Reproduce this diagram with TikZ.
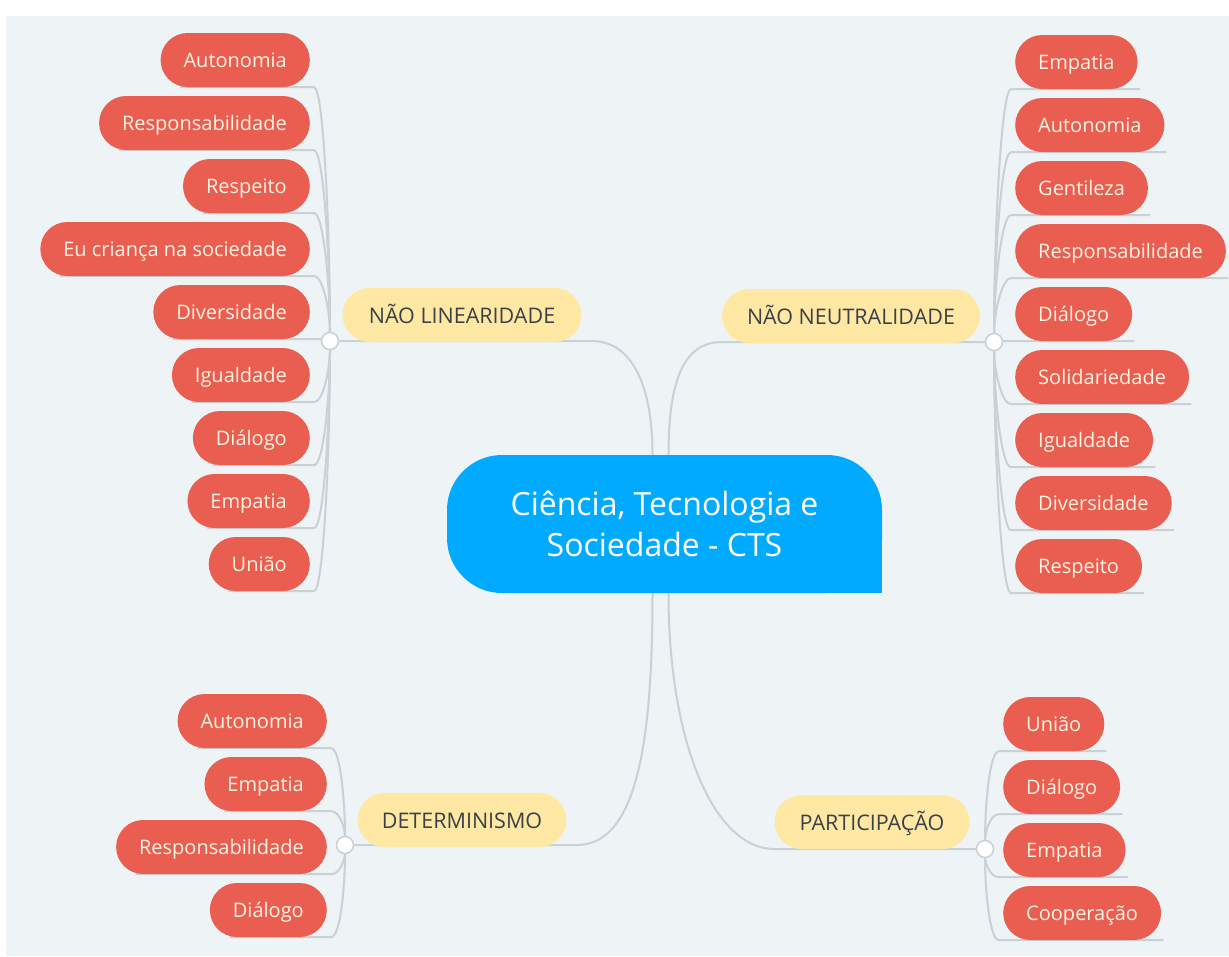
\documentclass[tikz,border=0pt]{standalone}
\usepackage{fontspec}
\setmainfont{Open Sans}
\usetikzlibrary{calc}
\definecolor{bgc}{HTML}{EEF3F6}
\definecolor{redc}{HTML}{E95E50}
\definecolor{yelc}{HTML}{FFE8A4}
\definecolor{linec}{HTML}{C9D1D6}
\definecolor{bluec}{HTML}{00AAFF}
\definecolor{leaftext}{HTML}{FFF4E2}
\definecolor{ytext}{HTML}{3B4148}
\pgfdeclarelayer{bglayer}
\pgfsetlayers{bglayer,main}
\begin{document}
\begin{tikzpicture}[x=1pt,y=-1pt,
  leaf/.style={fill=redc, text=leaftext, rounded corners=27pt, minimum height=54pt,
    inner xsep=23pt, inner ysep=0pt, text height=16.5pt, text depth=1pt,
    font=\fontsize{20}{24}\selectfont},
  topic/.style={fill=yelc, text=ytext, rounded corners=27pt, minimum height=54pt,
    inner sep=0pt, text height=17pt, text depth=1pt, font=\fontsize{21.5}{24}\selectfont},
  conn/.style={draw=linec, line width=2pt},
  junc/.style={circle, fill=white, draw=linec, line width=1.5pt, minimum size=17pt, inner sep=0pt},
  central/.style={fill=bluec, text=white, rounded corners=55pt, minimum width=435pt,
    minimum height=138pt, align=center, font=\fontsize{32}{41}\selectfont}]
\useasboundingbox (0,0) rectangle (1229,956);

% central node
\node[central] (C) at (664.5,524) {Ciência, Tecnologia e\\Sociedade - CTS};
\fill[bluec] (C.south east) rectangle ++(-56,-56);

% topics
\node[topic, minimum width=239pt] (NL) at (462,315) {NÃO LINEARIDADE};
\node[topic, minimum width=258pt] (NN) at (851,316) {NÃO NEUTRALIDADE};
\node[topic, minimum width=209pt] (DT) at (462,820) {DETERMINISMO};
\node[topic, minimum width=195pt] (PT) at (872,822) {PARTICIPAÇÃO};

% junctions
\node[junc] (J1) at (330,341) {};
\node[junc] (J2) at (994,342) {};
\node[junc] (J3) at (345,845) {};
\node[junc] (J4) at (985,849) {};

% left top leaves
\node[leaf, anchor=east] (a1) at (310,60) {Autonomia};
\node[leaf, anchor=east] (a2) at (310,123) {Responsabilidade};
\node[leaf, anchor=east] (a3) at (310,186) {Respeito};
\node[leaf, anchor=east] (a4) at (310,249) {Eu criança na sociedade};
\node[leaf, anchor=east] (a5) at (310,312) {Diversidade};
\node[leaf, anchor=east] (a6) at (310,375) {Igualdade};
\node[leaf, anchor=east] (a7) at (310,438) {Diálogo};
\node[leaf, anchor=east] (a8) at (310,501) {Empatia};
\node[leaf, anchor=east] (a9) at (310,564) {União};

% right top leaves
\node[leaf, anchor=west] (b1) at (1015,62) {Empatia};
\node[leaf, anchor=west] (b2) at (1015,125) {Autonomia};
\node[leaf, anchor=west] (b3) at (1015,188) {Gentileza};
\node[leaf, anchor=west] (b4) at (1015,251) {Responsabilidade};
\node[leaf, anchor=west] (b5) at (1015,314) {Diálogo};
\node[leaf, anchor=west] (b6) at (1015,377) {Solidariedade};
\node[leaf, anchor=west] (b7) at (1015,440) {Igualdade};
\node[leaf, anchor=west] (b8) at (1015,503) {Diversidade};
\node[leaf, anchor=west] (b9) at (1015,566) {Respeito};

% bottom left leaves
\node[leaf, anchor=east] (c1) at (327,721) {Autonomia};
\node[leaf, anchor=east] (c2) at (327,784) {Empatia};
\node[leaf, anchor=east] (c3) at (327,847) {Responsabilidade};
\node[leaf, anchor=east] (c4) at (327,910) {Diálogo};

% bottom right leaves
\node[leaf, anchor=west] (d1) at (1003,724) {União};
\node[leaf, anchor=west] (d2) at (1003,787) {Diálogo};
\node[leaf, anchor=west] (d3) at (1003,850) {Empatia};
\node[leaf, anchor=west] (d4) at (1003,913) {Cooperação};

\begin{pgfonlayer}{bglayer}
\fill[bgc] (6,16) rectangle (1229,956);
% main branches
\draw[conn] ($(C.north)+(-12,0)$) .. controls +(0,-70) and +(40,0) .. ($(J1 -| NL.east)+(10,0)$) -- (J1);
\draw[conn] ($(C.north)+(4,0)$) .. controls +(0,-70) and +(-40,0) .. ($(J2 -| NN.west)+(0,0)$) -- (J2);
\draw[conn] ($(C.south)+(-12,0)$) .. controls +(0,150) and +(60,0) .. ($(J3 -| DT.east)+(10,0)$) -- (J3);
\draw[conn] ($(C.south)+(4,0)$) .. controls +(0,150) and +(-60,0) .. ($(J4 -| PT.west)+(0,0)$) -- (J4);
% leaf connectors
\foreach \i in {1,...,9}{
  \draw[conn] (J1) .. controls ($(J1)!0.4!(J1|-a\i.south)$) and ($(a\i.south east)+(14,0)$) .. ($(a\i.south east)+(4,0)$) -- ($(a\i.south west)+(20,0)$);
  \draw[conn] (J2) .. controls ($(J2)!0.4!(J2|-b\i.south)$) and ($(b\i.south west)+(-14,0)$) .. ($(b\i.south west)+(-4,0)$) -- ($(b\i.south east)+(2,0)$);
}
\foreach \i in {1,...,4}{
  \draw[conn] (J3) .. controls ($(J3)!0.4!(J3|-c\i.south)$) and ($(c\i.south east)+(14,0)$) .. ($(c\i.south east)+(4,0)$) -- ($(c\i.south west)+(20,0)$);
  \draw[conn] (J4) .. controls ($(J4)!0.4!(J4|-d\i.south)$) and ($(d\i.south west)+(-14,0)$) .. ($(d\i.south west)+(-4,0)$) -- ($(d\i.south east)+(2,0)$);
}
\end{pgfonlayer}
\end{tikzpicture}
\end{document}
